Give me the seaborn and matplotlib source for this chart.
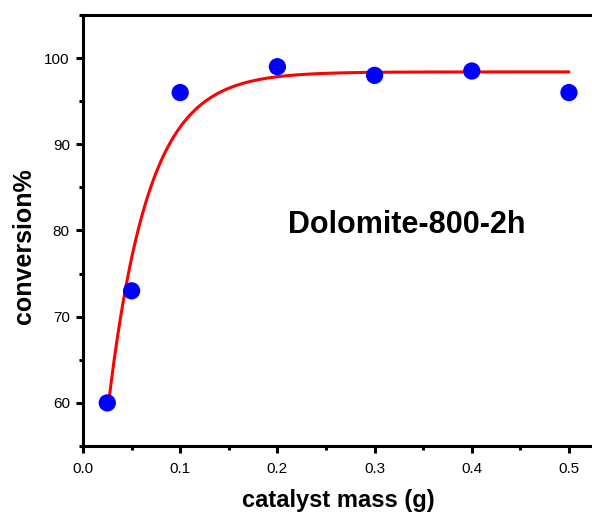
import numpy as np
import pandas as pd
import seaborn as sns
import matplotlib
matplotlib.use("Agg")
import matplotlib.pyplot as plt
from matplotlib.ticker import MultipleLocator

# data
mass_g = [0.025, 0.05, 0.1, 0.2, 0.3, 0.4, 0.5]
conversion = [60.0, 73.0, 96.0, 99.0, 98.0, 98.5, 96.0]

# exponential-association fit parameters
fit_plateau = 98.4
fit_amp = 72.9
fit_tau = 0.0411
fit_x_start = 0.026
fit_x_end = 0.5

sns.set_theme(style="ticks")
plt.rcParams["font.family"] = ["Liberation Sans", "DejaVu Sans"]
plt.rcParams.update({"text.color": "black", "axes.labelcolor": "black",
                     "xtick.color": "black", "ytick.color": "black",
                     "axes.edgecolor": "black"})

df = pd.DataFrame({"mass": mass_g, "conv": conversion})
fx = np.linspace(fit_x_start, fit_x_end, 300)
fit_df = pd.DataFrame({"mass": fx, "conv": fit_plateau - fit_amp * np.exp(-fx / fit_tau)})

fig = plt.figure(figsize=(5.92, 5.13), dpi=100)
ax = fig.add_axes([83 / 592, 1 - 446 / 513, 1 - 83 / 592, (446 - 15) / 513])

sns.lineplot(data=fit_df, x="mass", y="conv", ax=ax, color="#ff0000", lw=2.2, zorder=3)
sns.scatterplot(data=df, x="mass", y="conv", ax=ax, color="#0000ff", s=155,
                edgecolor="none", zorder=4)

ax.set_xlim(0, 0.5237)
ax.set_ylim(55, 105)
ax.xaxis.set_minor_locator(MultipleLocator(0.05))
ax.yaxis.set_minor_locator(MultipleLocator(5))
ax.set_xticks([0.0, 0.1, 0.2, 0.3, 0.4, 0.5])
ax.set_xticklabels(["0.0", "0.1", "0.2", "0.3", "0.4", "0.5"])
ax.set_yticks([60, 70, 80, 90, 100])

for side in ["left", "bottom", "top"]:
    ax.spines[side].set_linewidth(2.2)
    ax.spines[side].set_color("black")
ax.spines["right"].set_visible(False)

ax.tick_params(axis="both", which="major", direction="out", length=5, width=2.2,
               labelsize=11, colors="black")
ax.tick_params(axis="both", which="minor", direction="out", length=3, width=2.2,
               colors="black")
ax.tick_params(axis="x", which="major", pad=6.5)
ax.tick_params(axis="y", which="major", pad=4.5)
ax.tick_params(top=False, right=False, which="both")

ax.set_xlabel("catalyst mass (g)", fontsize=17, fontweight="bold", va="baseline",
              color="black")
ax.xaxis.set_label_coords((338 - 83) / 509, (446 - 506.7) / 431)
ax.set_ylabel("conversion%", fontsize=18, fontweight="bold", va="center", color="black")
ax.yaxis.set_label_coords((24 - 83) / 509, (446 - 246) / 431)

ax.text((288 - 83) / 509, (446 - 225) / 431, "Dolomite-800-2h", transform=ax.transAxes,
        fontsize=22, fontweight="bold", ha="left", va="center", color="black")

fig.savefig("out.png", dpi=100)
